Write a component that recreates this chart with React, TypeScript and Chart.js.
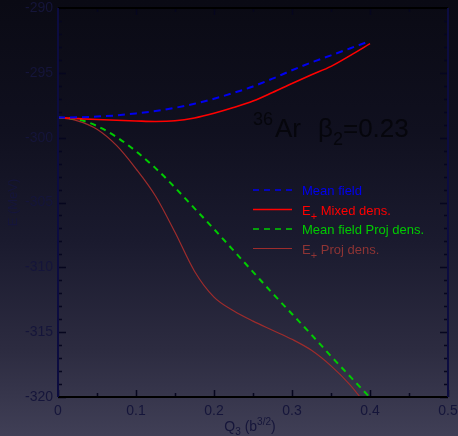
import { useEffect, useRef } from 'react';
import { Chart, registerables } from 'chart.js';

Chart.register(...registerables);

// ---- data ----
const q3Values = [0, 0.025, 0.05, 0.075, 0.1, 0.125, 0.15, 0.175, 0.2, 0.225, 0.25, 0.275, 0.3, 0.325, 0.35, 0.375, 0.4];
const meanField = [-298.45, -298.43, -298.37, -298.28, -298.13, -297.95, -297.7, -297.38, -297.0, -296.55, -296.05, -295.45, -294.8, -294.2, -293.65, -293.1, -292.55];
const mixedDens = [-298.45, -298.53, -298.6, -298.66, -298.71, -298.75, -298.7, -298.48, -298.12, -297.68, -297.18, -296.52, -295.82, -295.15, -294.5, -293.65, -292.75];
const meanFieldProj = [-298.45, -298.58, -299.1, -299.95, -301.05, -302.35, -303.85, -305.45, -307.05, -308.7, -310.35, -312.0, -313.6, -315.2, -316.85, -318.45, -320.05];
const projDens = [-298.45, -298.7, -299.35, -300.6, -302.4, -304.5, -307.3, -310.3, -312.3, -313.35, -314.15, -314.85, -315.55, -316.4, -317.6, -319.1, -321.0];

const seriesLabels = ['Mean field', 'E+ Mixed dens.', 'Mean field Proj dens.', 'E+ Proj dens.'];
const xTickValues = [0, 0.1, 0.2, 0.3, 0.4, 0.5];
const yTickValues = [-320, -315, -310, -305, -300, -295, -290];

const FONT = "'Liberation Sans', Arial, sans-serif";
const LABEL_COLOR = '#15153a';

const colors = ['#0000f0', '#ff0000', '#00cc00', '#9e2c2c'];
const dashes = [[7, 5], [], [6, 5], []];
const widths = [2, 1.6, 2, 1.2];

type Part = { t: string; size: number; dy: number };

function drawParts(ctx: CanvasRenderingContext2D, parts: Part[], x: number, y: number, align: 'left' | 'center' = 'left') {
  let total = 0;
  for (const p of parts) {
    ctx.font = `${p.size}px ${FONT}`;
    total += ctx.measureText(p.t).width;
  }
  let cx = align === 'center' ? x - total / 2 : x;
  ctx.textAlign = 'left';
  ctx.textBaseline = 'alphabetic';
  for (const p of parts) {
    ctx.font = `${p.size}px ${FONT}`;
    ctx.fillText(p.t, cx, y + p.dy);
    cx += ctx.measureText(p.t).width;
  }
}

function labelParts(label: string): Part[] {
  if (label.startsWith('E+')) {
    return [
      { t: 'E', size: 13, dy: 0 },
      { t: '+', size: 11, dy: 5 },
      { t: label.slice(2), size: 13, dy: 0 },
    ];
  }
  return [{ t: label, size: 13, dy: 0 }];
}

const framePlugin = {
  id: 'frameAndText',
  afterDraw(chart: any) {
    const { ctx, chartArea: a, scales } = chart;
    const xs = scales.x;
    const ys = scales.y;
    ctx.save();

    // minor & major ticks (inward)
    ctx.lineWidth = 1.5;
    ctx.strokeStyle = '#06061e';
    for (let v = -320; v <= -290; v += 1) {
      const py = Math.round(ys.getPixelForValue(v)) + 0.5;
      const major = v % 5 === 0;
      const len = major ? 8 : 4;
      ctx.beginPath();
      ctx.moveTo(a.left, py);
      ctx.lineTo(a.left + len, py);
      ctx.moveTo(a.right, py);
      ctx.lineTo(a.right - len, py);
      ctx.stroke();
    }
    for (let i = 0; i <= 10; i++) {
      const v = i * 0.05;
      const px = Math.round(xs.getPixelForValue(v)) + 0.5;
      const major = i % 2 === 0;
      const len = major ? 7 : 4;
      ctx.beginPath();
      ctx.moveTo(px, a.bottom);
      ctx.lineTo(px, a.bottom - len);
      ctx.moveTo(px, a.top);
      ctx.lineTo(px, a.top + len);
      ctx.stroke();
    }

    // frame
    ctx.lineWidth = 2;
    ctx.strokeStyle = '#000000';
    ctx.beginPath();
    ctx.moveTo(a.left, a.top);
    ctx.lineTo(a.right, a.top);
    ctx.moveTo(a.left, a.bottom);
    ctx.lineTo(a.right, a.bottom);
    ctx.stroke();
    ctx.strokeStyle = '#0c0c40';
    ctx.beginPath();
    ctx.moveTo(a.left, a.top);
    ctx.lineTo(a.left, a.bottom);
    ctx.moveTo(a.right, a.top);
    ctx.lineTo(a.right, a.bottom);
    ctx.stroke();

    // axis titles
    ctx.fillStyle = LABEL_COLOR;
    ctx.save();
    ctx.translate(13, (a.top + a.bottom) / 2);
    ctx.rotate(-Math.PI / 2);
    ctx.font = `13px ${FONT}`;
    ctx.textAlign = 'center';
    ctx.textBaseline = 'middle';
    ctx.fillText('E (MeV)', 0, 0);
    ctx.restore();

    drawParts(ctx, [
      { t: 'Q', size: 14, dy: 0 },
      { t: '3', size: 10, dy: 4 },
      { t: ' (b', size: 14, dy: 0 },
      { t: '3/2', size: 10, dy: -6 },
      { t: ')', size: 14, dy: 0 },
    ], (a.left + a.right) / 2 - 3, 431, 'center');

    // annotation
    ctx.fillStyle = '#06060c';
    drawParts(ctx, [{ t: '36', size: 18, dy: 0 }], 253, 125);
    drawParts(ctx, [{ t: 'Ar', size: 26, dy: 0 }], 275, 137);
    drawParts(ctx, [
      { t: 'β', size: 26, dy: 0 },
      { t: '2', size: 18, dy: 8 },
      { t: '=0.23', size: 26, dy: 0 },
    ], 318, 137);

    // legend
    const rowY = [190, 209.5, 229, 248.5];
    chart.data.datasets.forEach((ds: any, i: number) => {
      const yy = rowY[i];
      ctx.strokeStyle = ds.borderColor;
      ctx.lineWidth = i === 3 ? 1.2 : 1.5;
      ctx.setLineDash(dashes[i].length ? [6, 5] : []);
      ctx.beginPath();
      ctx.moveTo(253, yy);
      ctx.lineTo(292, yy);
      ctx.stroke();
      ctx.setLineDash([]);
      ctx.fillStyle = i === 3 ? '#8e3434' : ds.borderColor;
      drawParts(ctx, labelParts(ds.label), 302, yy + 5);
    });

    ctx.restore();
  },
};

export default function App() {
  const ref = useRef<HTMLCanvasElement | null>(null);

  useEffect(() => {
    if (!ref.current) return;
    const series = [meanField, mixedDens, meanFieldProj, projDens];
    const chart = new Chart(ref.current, {
      type: 'line',
      data: {
        datasets: series.map((vals, i) => ({
          label: seriesLabels[i],
          data: q3Values.map((x, j) => ({ x, y: vals[j] })),
          borderColor: colors[i],
          borderWidth: widths[i],
          borderDash: dashes[i],
          pointRadius: 0,
          fill: false,
          cubicInterpolationMode: 'monotone' as const,
        })),
      },
      options: {
        animation: false,
        responsive: false,
        layout: { padding: { top: 8, right: 10, left: 0, bottom: 0 } },
        plugins: { legend: { display: false }, tooltip: { enabled: false } },
        scales: {
          x: {
            type: 'linear',
            min: 0,
            max: 0.5,
            grid: { display: false, drawTicks: false },
            border: { display: false },
            ticks: {
              padding: 6,
              color: LABEL_COLOR,
              font: { size: 14, family: FONT },
              maxRotation: 0,
              callback: (v: any) => (Number(v) === 0 ? '0' : Number(v).toFixed(1)),
            },
            afterBuildTicks: (s: any) => {
              s.ticks = xTickValues.map((v) => ({ value: v }));
            },
            afterFit: (s: any) => {
              s.height = 39;
              s.paddingLeft = 0;
              s.paddingRight = 0;
            },
          },
          y: {
            type: 'linear',
            min: -320,
            max: -290,
            grid: { display: false, drawTicks: false },
            border: { display: false },
            ticks: {
              padding: 5,
              color: LABEL_COLOR,
              font: { size: 14, family: FONT },
              callback: (v: any) => String(Math.round(Number(v))),
            },
            afterBuildTicks: (s: any) => {
              s.ticks = yTickValues.map((v) => ({ value: v }));
            },
            afterFit: (s: any) => {
              s.width = 58;
              s.paddingTop = 0;
              s.paddingBottom = 0;
            },
          },
        },
      },
      plugins: [framePlugin],
    });
    return () => chart.destroy();
  }, []);

  return (
    <div
      style={{
        position: 'fixed',
        left: 0,
        top: 0,
        width: 458,
        height: 436,
        background: 'linear-gradient(to bottom, #0a0a14 0%, #10101f 30%, #1a1a2e 55%, #2c2b40 80%, #403f56 100%)',
      }}
    >
      <canvas ref={ref} width={458} height={436} style={{ display: 'block' }} />
    </div>
  );
}
